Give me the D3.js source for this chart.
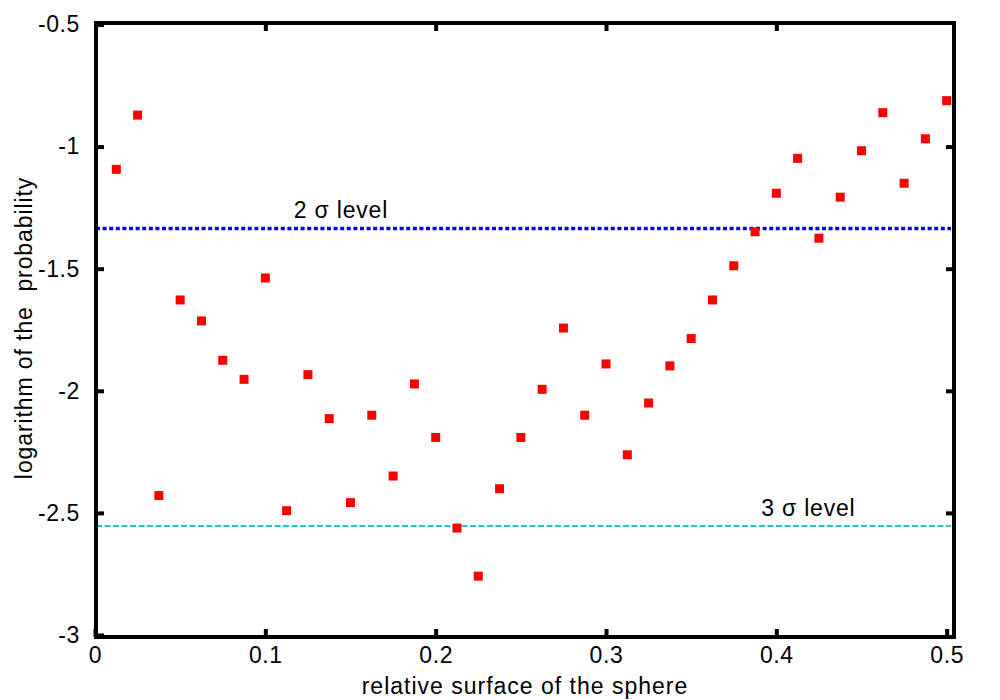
<!DOCTYPE html>
<html>
<head>
<meta charset="utf-8">
<script src="https://cdn.jsdelivr.net/npm/d3@7"></script>
<style>
  body { margin: 0; background: #fff; }
  svg { font-family: "Liberation Sans", Arial, sans-serif; }
</style>
</head>
<body>
<svg width="1000" height="700"></svg>
<script>
// data
const xValues = [0.0125, 0.025, 0.0375, 0.05, 0.0625, 0.075, 0.0875, 0.1, 0.1125, 0.125,
  0.1375, 0.15, 0.1625, 0.175, 0.1875, 0.2, 0.2125, 0.225, 0.2375, 0.25,
  0.2625, 0.275, 0.2875, 0.3, 0.3125, 0.325, 0.3375, 0.35, 0.3625, 0.375,
  0.3875, 0.4, 0.4125, 0.425, 0.4375, 0.45, 0.4625, 0.475, 0.4875, 0.5];
const logProb = [-1.093, -0.871, -2.429, -1.628, -1.714, -1.875, -1.953, -1.538, -2.491, -1.934,
  -2.114, -2.458, -2.100, -2.349, -1.972, -2.191, -2.562, -2.759, -2.401, -2.191,
  -1.994, -1.743, -2.100, -1.890, -2.262, -2.050, -1.898, -1.786, -1.628, -1.488,
  -1.349, -1.191, -1.048, -1.375, -1.207, -1.017, -0.861, -1.150, -0.968, -0.812];
const xTicks = [0, 0.1, 0.2, 0.3, 0.4, 0.5];
const yTicks = [-0.5, -1, -1.5, -2, -2.5, -3];
const levelNames = ["2 σ level", "3 σ level"];
const levelValues = [-1.335, -2.554];
const levelLabelX = [0.1444, 0.4188]; // label centre, in data units

const svg = d3.select("svg");
const frameL = 96, frameR = 954, frameT = 23, frameB = 637;

const x = d3.scaleLinear().domain([0, 0.5043]).range([95, 954]);
const y = d3.scaleLinear().domain([-0.5, -3]).range([24.5, 635]);

// sigma lines
const levelStyles = [
  { color: "#0000ff", width: 3.5, dash: "4,2.6" },
  { color: "#22c8c8", width: 2, dash: "6,2.5" }
];
levelValues.forEach((v, i) => {
  svg.append("line")
    .attr("x1", frameL).attr("x2", frameR - 3)
    .attr("y1", y(v)).attr("y2", y(v))
    .attr("stroke", levelStyles[i].color)
    .attr("stroke-width", levelStyles[i].width)
    .attr("stroke-dasharray", levelStyles[i].dash);
  svg.append("text")
    .attr("x", x(levelLabelX[i]))
    .attr("y", y(v) - 10)
    .attr("text-anchor", "middle")
    .attr("font-size", 23)
    .attr("letter-spacing", 0.8)
    .text(levelNames[i]);
});

// points
svg.append("g")
  .selectAll("rect")
  .data(xValues)
  .enter()
  .append("rect")
  .attr("x", (d) => x(d) - 4.5)
  .attr("y", (d, i) => y(logProb[i]) - 4.5)
  .attr("width", 9)
  .attr("height", 9)
  .attr("fill", "#ff0000");

// axes, ticks inward on all four sides
const tick = 8;
const plain = (d) => String(d);
svg.append("g")
  .attr("transform", "translate(0," + frameB + ")")
  .call(d3.axisBottom(x).tickValues(xTicks).tickSizeInner(-tick).tickSizeOuter(0).tickPadding(10).tickFormat(plain))
  .call((g) => g.select(".domain").remove());
svg.append("g")
  .attr("transform", "translate(0," + frameT + ")")
  .call(d3.axisTop(x).tickValues(xTicks.slice(1, -1)).tickSizeInner(-tick).tickSizeOuter(0).tickFormat(""))
  .call((g) => g.select(".domain").remove());
svg.append("g")
  .attr("transform", "translate(" + frameL + ",0)")
  .call(d3.axisLeft(y).tickValues(yTicks).tickSizeInner(-tick).tickSizeOuter(0).tickPadding(16).tickFormat(plain))
  .call((g) => g.select(".domain").remove());
svg.append("g")
  .attr("transform", "translate(" + frameR + ",0)")
  .call(d3.axisRight(y).tickValues(yTicks.slice(1, -1)).tickSizeInner(-tick).tickSizeOuter(0).tickFormat(""))
  .call((g) => g.select(".domain").remove());

svg.selectAll(".tick line").attr("stroke", "#000").attr("stroke-width", 4);
svg.selectAll(".tick text")
  .attr("fill", "#000")
  .attr("font-size", 23)
  .attr("letter-spacing", 0.6)
  .attr("font-family", "Liberation Sans, Arial, sans-serif");

// frame
svg.append("rect")
  .attr("x", frameL).attr("y", frameT)
  .attr("width", frameR - frameL).attr("height", frameB - frameT)
  .attr("fill", "none")
  .attr("stroke", "#000")
  .attr("stroke-width", 4);

// axis titles
svg.append("text")
  .attr("x", 525).attr("y", 694)
  .attr("text-anchor", "middle")
  .attr("font-size", 23)
  .attr("letter-spacing", 1)
  .text("relative surface of the sphere");
svg.append("text")
  .attr("transform", "translate(32,328) rotate(-90)")
  .attr("text-anchor", "middle")
  .attr("font-size", 23)
  .attr("letter-spacing", 0.9)
  .style("white-space", "pre")
  .text("logarithm of the  probability");
</script>
</body>
</html>
